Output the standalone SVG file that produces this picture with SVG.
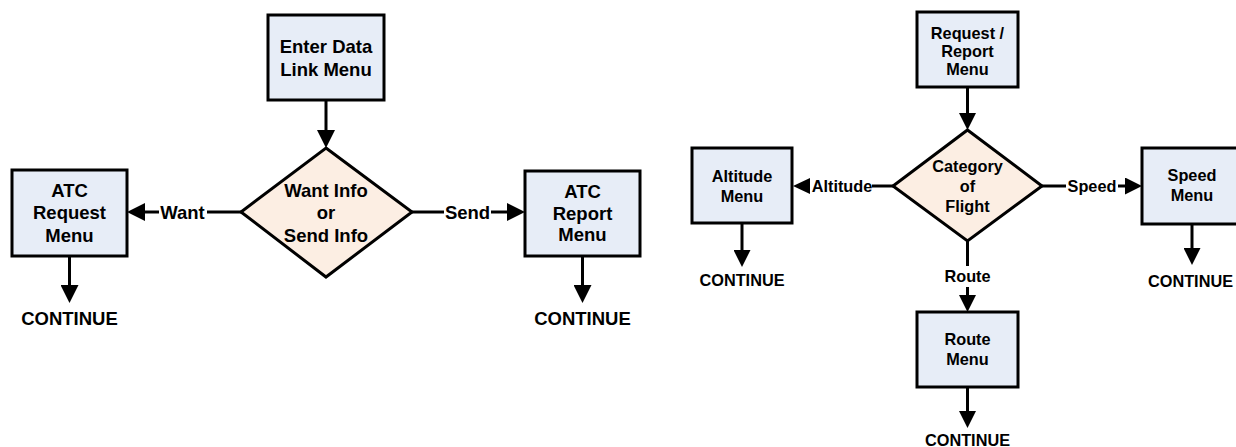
<svg xmlns="http://www.w3.org/2000/svg" width="1236" height="447" viewBox="0 0 1236 447">
<style>
.box{fill:#E7EDF7;stroke:#000;stroke-width:3}
.dec{fill:#FCEEE3;stroke:#000;stroke-width:3}
.ln{stroke:#000;stroke-width:3;fill:none}
.a1{marker-end:url(#ah1)}
.a2{marker-end:url(#ah2)}
text{font-family:"Liberation Sans",Arial,sans-serif;font-weight:bold;fill:#000;text-anchor:middle}
.t1{font-size:18.5px}
.t2{font-size:16.3px}
</style>
<defs>
<marker id="ah1" markerUnits="userSpaceOnUse" markerWidth="18" markerHeight="18" refX="12" refY="9" orient="auto">
<path d="M0,0 L18,9 L0,18 Z" fill="#000"/>
</marker>
<marker id="ah2" markerUnits="userSpaceOnUse" markerWidth="17" markerHeight="17" refX="11" refY="8.5" orient="auto">
<path d="M0,0 L17,8.5 L0,17 Z" fill="#000"/>
</marker>
</defs>
<g id="connectors">
<line class="ln a1" x1="326" y1="100" x2="326" y2="142"/>
<line class="ln" x1="241" y1="212" x2="207" y2="212"/>
<line class="ln a1" x1="159" y1="212" x2="133" y2="212"/>
<line class="ln" x1="412" y1="212" x2="444" y2="212"/>
<line class="ln a1" x1="491" y1="212" x2="519" y2="212"/>
<line class="ln a1" x1="69.5" y1="256" x2="69.5" y2="297"/>
<line class="ln a1" x1="582.5" y1="256" x2="582.5" y2="297"/>
<line class="ln a2" x1="967.5" y1="87" x2="967.5" y2="124"/>
<line class="ln" x1="893" y1="186" x2="872" y2="186"/>
<line class="ln" x1="1042" y1="186" x2="1066" y2="186"/>
<line class="ln a2" x1="1118" y1="186" x2="1136" y2="186"/>
<line class="ln" x1="967.5" y1="241" x2="967.5" y2="266"/>
<line class="ln a2" x1="967.5" y1="287" x2="967.5" y2="306"/>
<line class="ln a2" x1="742" y1="223" x2="742" y2="261"/>
<line class="ln a2" x1="1192" y1="224" x2="1192" y2="259"/>
<line class="ln a2" x1="967.5" y1="387" x2="967.5" y2="422"/>
<path d="M810,178 L793,186 L810,194 Z" fill="#000"/>
<text class="t1" x="182.5" y="218.6">Want</text>
<text class="t1" x="467.5" y="218.6">Send</text>
<text class="t2" x="842" y="191.8">Altitude</text>
<text class="t2" x="1092" y="191.8">Speed</text>
<text class="t2" x="967.5" y="282">Route</text>
</g>
<g id="n-enter">
<rect class="box" x="268" y="15" width="116" height="85"/>
<text class="t1" x="326" y="52.6">Enter Data</text>
<text class="t1" x="326" y="75.6">Link Menu</text>
</g>
<g id="n-want-send">
<polygon class="dec" points="326,148 412,212 326,277 241,212"/>
<text class="t1" x="326" y="196.6">Want Info</text>
<text class="t1" x="326" y="219">or</text>
<text class="t1" x="326" y="241.5">Send Info</text>
</g>
<g id="n-atc-request">
<rect class="box" x="12" y="170" width="115" height="86"/>
<text class="t1" x="69.5" y="196.6">ATC</text>
<text class="t1" x="69.5" y="219.3">Request</text>
<text class="t1" x="69.5" y="241.6">Menu</text>
</g>
<g id="n-continue-1"><text class="t1" x="69.5" y="325">CONTINUE</text></g>
<g id="n-atc-report">
<rect class="box" x="525" y="171" width="115" height="85"/>
<text class="t1" x="582.5" y="197.6">ATC</text>
<text class="t1" x="582.5" y="219.6">Report</text>
<text class="t1" x="582.5" y="240.6">Menu</text>
</g>
<g id="n-continue-2"><text class="t1" x="582.5" y="325">CONTINUE</text></g>
<g id="n-reqrep">
<rect class="box" x="917" y="12" width="101" height="75"/>
<text class="t2" x="967.5" y="38.8">Request /</text>
<text class="t2" x="967.5" y="57.3">Report</text>
<text class="t2" x="967.5" y="74.8">Menu</text>
</g>
<g id="n-category">
<polygon class="dec" points="967.5,130 1042,186 967.5,241 893,186"/>
<text class="t2" x="967.5" y="171.8">Category</text>
<text class="t2" x="967.5" y="191.8">of</text>
<text class="t2" x="967.5" y="211.8">Flight</text>
</g>
<g id="n-altitude">
<rect class="box" x="692" y="148" width="100" height="75"/>
<text class="t2" x="742" y="182.3">Altitude</text>
<text class="t2" x="742" y="201.8">Menu</text>
</g>
<g id="n-continue-3"><text class="t2" x="742" y="286">CONTINUE</text></g>
<g id="n-speed">
<rect class="box" x="1142" y="148" width="100" height="76"/>
<text class="t2" x="1192" y="180.8">Speed</text>
<text class="t2" x="1192" y="200.8">Menu</text>
</g>
<g id="n-continue-4"><text class="t2" x="1190.5" y="287">CONTINUE</text></g>
<g id="n-route">
<rect class="box" x="917" y="312" width="101" height="75"/>
<text class="t2" x="967.5" y="344.8">Route</text>
<text class="t2" x="967.5" y="364.8">Menu</text>
</g>
<g id="n-continue-5"><text class="t2" x="967.5" y="446">CONTINUE</text></g>
</svg>
